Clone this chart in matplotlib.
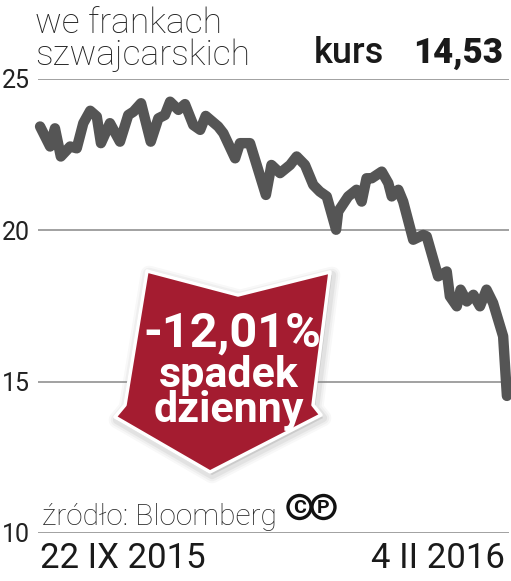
import matplotlib
matplotlib.use('Agg')
import matplotlib.pyplot as plt
from matplotlib.patches import Polygon, Circle

plt.rcParams['font.family'] = ['Roboto', 'DejaVu Sans']

# kurs w CHF, dni od 22 IX 2015
days = [0, 2.9, 4.3, 6.0, 8.7, 10.6, 12.5, 14.5, 16.4, 17.6, 20.2, 23.1, 25.5,
        27.0, 29.2, 32.0, 34.2, 36.1, 37.6, 40.0, 41.9, 44.3, 46.3, 47.9, 51.5,
        53.0, 56.4, 57.8, 60.7, 65.3, 66.9, 69.4, 72.3, 74.2, 76.6, 79.0, 80.9,
        82.9, 85.6, 86.2, 89.1, 91.5, 93.0, 94.4, 95.9, 98.8, 100.7, 101.7,
        103.6, 105.0, 107.9, 110.8, 111.8, 115.1, 117.6, 118.5, 120.5, 121.6,
        123.4, 125.3, 127.2, 129.1, 131.0, 133.9, 135.0]
kurs = [23.43, 22.77, 23.37, 22.44, 22.77, 22.71, 23.54, 23.95, 23.76, 22.88,
        23.54, 22.93, 23.81, 23.92, 24.2, 22.93, 23.70, 23.81, 24.25, 23.98,
        24.17, 23.48, 23.32, 23.78, 23.43, 23.21, 22.38, 22.88, 22.88, 21.17,
        22.16, 21.89, 22.16, 22.44, 22.16, 21.5, 21.28, 21.12, 20.02, 20.62,
        21.12, 21.34, 20.95, 21.72, 21.72, 21.94, 21.56, 21.12, 21.34, 20.95,
        19.69, 19.85, 19.80, 18.48, 18.64, 17.82, 17.49, 18.04, 17.65, 17.87,
        17.49, 18.04, 17.60, 16.5, 14.53]
yticks = [10, 15, 20, 25]
date_labels = ['22 IX 2015', '4 II 2016']

W, H = 511, 581
fig = plt.figure(figsize=(W / 100, H / 100), dpi=100)

ax = fig.add_axes([38 / W, 48 / H, 471 / W, 454 / H])
ax.set_xlim(-0.6, 135.6)
ax.set_ylim(10, 25)
for v in yticks:
    ax.axhline(v, color='#9a9a9a', lw=1.3, zorder=1)
ax.plot(days, kurs, color='#555555', lw=7.5, solid_joinstyle='round',
        solid_capstyle='round', zorder=3, clip_on=False)
ax.set_yticks(yticks)
ax.set_yticklabels([str(v) for v in yticks], fontsize=18, color='#222222')
ax.tick_params(axis='y', length=0, pad=6)
ax.set_xticks([])
for s in ax.spines.values():
    s.set_visible(False)
ax.patch.set_alpha(0)

# nakladka w pikselach
ov = fig.add_axes([0, 0, 1, 1], zorder=5)
ov.set_xlim(0, W)
ov.set_ylim(H, 0)
ov.axis('off')
ov.patch.set_alpha(0)

ov.text(35, 33, 'we frankach', fontsize=25.5, fontweight='light', color='#222222')
ov.text(35, 65, 'szwajcarskich', fontsize=25.5, fontweight='light', color='#222222')
ov.text(314, 63, 'kurs', fontsize=26, fontweight='medium', color='#1a1a1a')
ov.text(503, 63, '14,53', fontsize=25, fontweight='black', color='#1a1a1a', ha='right')

# strzalka
arrow = [(147, 271), (238, 295), (330, 272), (313, 405), (321, 415),
         (210, 472), (115, 417), (125, 405)]
for lw, a in [(12, 0.06), (9, 0.08), (6, 0.12)]:
    ov.add_patch(Polygon([(x + 2, y + 3) for x, y in arrow], closed=True,
                         fc='#888888', ec='#888888', lw=lw, alpha=a,
                         joinstyle='round'))
ov.add_patch(Polygon(arrow, closed=True, fc='#a41c30', ec='white', lw=2.5,
                     joinstyle='round'))
ov.text(232, 347, '-12,01%', fontsize=35, fontweight='bold', color='white', ha='center')
ov.text(228.5, 393, 'spadek\ndzienny', fontsize=31, fontweight='bold', color='white',
        ha='center', va='center', multialignment='center', linespacing=0.8)

# zrodlo
ov.text(42, 525, 'źródło: Bloomberg', fontsize=21.5, fontweight='light', color='#222222')
for cx, ch in [(299.5, 'C'), (323.5, 'P')]:
    ov.add_patch(Circle((cx, 507), 11.5, fc='white', ec='#111111', lw=2.4))
    ov.text(cx, 508, ch, fontsize=14, fontweight='bold', color='#111111',
            ha='center', va='center')

ov.text(40, 568, date_labels[0], fontsize=25, color='#1a1a1a')
ov.text(505, 568, date_labels[1], fontsize=25, color='#1a1a1a', ha='right')

fig.savefig('out.png', dpi=100)
